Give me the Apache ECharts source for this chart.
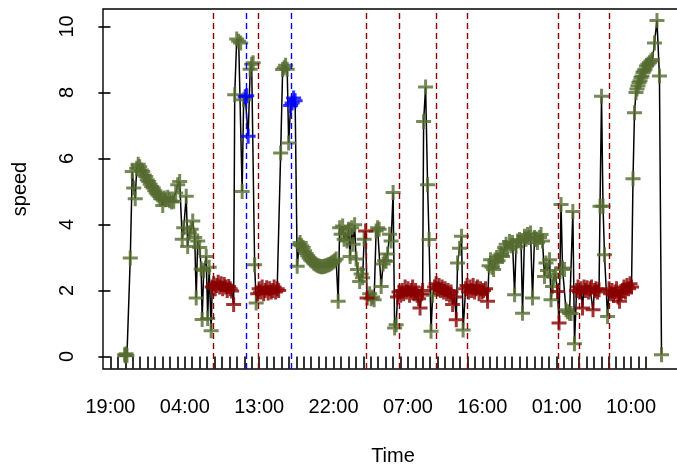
<!DOCTYPE html>
<html><head><meta charset="utf-8">
<script src="https://cdn.jsdelivr.net/npm/echarts@6/dist/echarts.min.js"></script>
<style>html,body{margin:0;padding:0;background:#fff}#c{width:677px;height:464px}</style>
</head><body><div id="c"></div>
<script>
// hours elapsed since 19:00 on day 1
const timeH = [
 1.72,1.80,1.90,2.00,2.40,2.64,2.82,3.00,3.18,3.36,3.54,3.73,3.91,4.09,4.27,4.45,4.63,4.81,5.00,5.18,5.36,5.54,5.72,5.90,6.08,6.33,6.51,6.69,6.93,7.17,7.42,7.66,7.90,8.14,8.38,8.69,8.87,9.17,9.35,9.53,9.77,9.96,10.20,10.38,10.56,10.80,10.98,11.10,11.29,11.59,11.77,11.95,12.19,
 12.31,12.50,12.68,12.86,13.04,13.22,13.40,13.58,13.77,13.95,14.13,14.31,14.49,14.67,14.91,
 15.04,15.28,15.52,15.76,15.94,16.12,
 16.31,16.49,16.67,
 16.91,17.09,17.27,17.45,17.64,
 17.82,18.00,18.18,18.36,18.54,18.72,18.91,19.09,19.27,19.45,19.63,19.81,19.99,20.18,20.36,
 20.60,20.84,21.02,21.20,21.39,21.57,
 21.81,21.99,22.17,22.35,
 22.60,22.84,22.96,23.14,23.32,23.50,23.68,23.87,24.05,24.23,24.41,24.59,24.77,24.95,25.14,25.32,25.50,25.68,25.86,26.04,26.22,26.41,26.59,26.77,26.95,27.13,27.31,27.56,27.74,27.92,28.10,28.28,28.46,28.64,28.82,29.01,29.19,29.37,29.55,29.73,29.91,30.16,30.34,30.52,30.70,
 30.88,31.06,
 31.37,31.55,31.73,31.91,32.15,32.33,32.52,32.76,33.00,33.18,33.36,33.54,33.78,33.97,34.21,34.39,34.57,
 34.75,34.93,35.12,35.30,35.48,35.66,35.84,36.02,36.20,36.39,36.57,36.75,36.93,37.11,37.29,37.47,37.66,37.78,
 37.90,38.14,38.38,38.56,38.80,38.99,
 39.23,39.41,39.59,39.77,39.95,40.14,40.32,40.50,40.68,40.86,41.04,41.22,41.41,41.65,41.85,
 42.01,42.25,42.49,42.68,
 42.98,43.16,43.34,43.52,43.70,43.89,44.07,44.25,44.43,44.61,44.79,44.97,45.15,45.40,45.64,
 45.82,46.00,46.18,46.37,46.55,46.73,46.91,47.09,47.27,47.45,47.70,47.88,48.06,48.30,48.48,48.66,48.91,49.09,49.27,49.51,49.69,49.87,50.11,50.30,50.48,50.66,50.84,51.08,51.32,51.50,51.68,51.93,52.11,52.29,52.53,52.71,52.89,53.14,53.32,53.50,53.68,53.86,
 54.10,54.29,
 54.53,54.71,54.95,55.13,55.32,55.56,55.74,55.96,56.16,
 56.41,56.59,56.77,56.95,57.13,57.31,57.49,57.67,57.86,58.04,58.22,58.40,58.58,58.76,58.94,59.13,
 59.25,59.43,59.61,59.79,60.16,
 60.34,60.52,60.70,60.88,61.06,61.25,61.43,61.61,61.79,61.97,62.15,62.33,62.51,62.70,62.88,63.06,
 63.24,63.42,63.60,63.72,63.84,63.96,64.09,64.21,64.33,64.45,64.57,64.69,64.87,65.05,65.23,65.41,65.60,65.84,66.14,66.44,66.69
];
const speed = [
 0.05,0.02,0.08,0.03,2.98,5.6,5.1,4.78,5.7,5.82,5.75,5.65,5.6,5.5,5.45,5.35,5.3,5.22,5.15,5.1,5.02,4.95,4.9,4.85,4.78,4.57,4.8,4.75,4.82,4.72,4.68,4.7,4.95,5.2,5.3,3.55,3.9,4.85,3.33,3.75,3.85,4.1,3.6,1.77,3.5,3.3,2.65,1.12,2.6,3.03,1.15,2.7,0.78,
 2.1,2.2,2.05,2.15,2.25,2.1,2.2,2.05,2.18,2.1,2.0,2.12,2.05,1.98,1.57,
 7.93,9.62,9.55,9.5,5.0,7.78,
 7.87,7.9,6.67,
 8.7,8.85,8.9,2.78,1.62,
 1.9,2.05,1.95,2.1,1.9,2.0,2.08,1.92,2.05,1.95,2.0,2.1,1.95,2.05,2.0,
 6.16,8.69,8.75,8.82,8.7,6.47,
 7.6,7.68,7.83,7.75,
 2.73,3.38,3.45,3.35,3.3,3.2,3.12,3.05,2.98,2.92,2.88,2.83,2.8,2.77,2.75,2.73,2.72,2.72,2.73,2.74,2.76,2.78,2.8,2.83,2.86,2.9,2.95,1.67,3.9,3.7,3.95,3.55,3.75,3.5,3.85,3.03,3.9,3.4,3.99,2.95,2.63,2.27,2.5,2.38,3.55,
 3.8,1.77,
 1.9,1.75,1.8,1.72,3.8,3.9,3.85,2.12,2.8,2.9,2.88,3.1,3.7,3.5,4.97,0.86,0.96,
 1.8,1.95,1.85,2.0,1.9,2.1,1.95,2.05,1.85,2.0,2.1,1.9,2.0,1.85,1.75,1.47,1.9,2.0,
 7.12,8.16,5.2,3.54,0.76,1.85,
 2.1,2.2,2.05,2.15,2.0,2.1,1.95,2.05,1.9,2.0,1.85,1.95,1.57,1.8,1.11,
 2.83,3.28,3.64,0.8,
 2.05,2.15,1.95,2.1,2.0,2.15,1.95,2.05,2.1,1.9,2.05,1.95,2.0,2.05,1.67,
 2.75,2.93,2.7,2.63,2.85,3.0,2.9,3.05,3.1,3.03,3.3,3.4,3.25,3.48,3.35,3.45,1.87,3.33,3.5,3.54,3.45,1.31,3.64,3.55,3.69,3.6,3.74,1.77,3.6,3.54,3.45,3.6,3.69,3.5,2.42,2.83,2.6,2.93,1.72,2.12,2.4,2.5,
 1.97,1.01,
 4.6,2.68,2.63,1.41,1.35,1.31,1.3,4.39,0.38,
 2.0,2.1,1.95,2.05,1.47,2.1,2.0,2.08,1.95,2.05,2.1,1.41,2.0,2.05,1.95,2.02,
 4.55,7.88,4.55,3.08,1.21,
 2.05,1.9,2.0,1.85,1.95,2.05,1.8,1.67,1.9,2.0,2.1,1.95,2.15,2.05,2.2,2.1,
 5.38,7.38,8.0,8.1,8.2,8.3,8.35,8.45,8.5,8.6,8.65,8.7,8.8,8.85,8.9,8.95,9.0,9.5,10.18,8.5,0.05
];
// consecutive runs of point classes (G = normal, R = stop, B = flagged)
const runClass  = ['G','R','G','B','G','R','G','B','G','R','G','R','G','R','G','R','G','R','G','R','G','R','G'];
const runLength = [ 53, 15,  6,  3,  5, 15,  6,  4, 45,  2, 17, 18,  6, 15,  4, 15, 42,  2,  9, 16,  5, 16, 21];
// dashed reference lines (hours since start)
const redLines  = [12.50, 17.94, 30.97, 34.91, 39.43, 43.18, 54.19, 56.69, 60.40];
const blueLines = [16.49, 21.89];
// axis labels
const labelHours = [0, 9, 18, 27, 36, 45, 54, 63];
const labelText  = ['19:00','04:00','13:00','22:00','07:00','16:00','01:00','10:00'];
const yTicks = [0, 2, 4, 6, 8, 10];

const classColor = {G:'#556B2F', R:'#8B0000', B:'#0000FF'};
const cls = [];
runClass.forEach((c, i) => { for (let k = 0; k < runLength[i]; k++) cls.push(c); });

const lineData = timeH.map((t, i) => [t, speed[i]]);
const groupData = {G:[], R:[], B:[]};
timeH.forEach((t, i) => groupData[cls[i] || 'G'].push([t, speed[i]]));

const xTicks = [];
for (let k = 0; k <= 72; k++) xTicks.push(+(k * 0.9).toFixed(2));

const plus = 'path://M0,4H10V6H0Z M4,0H6V10H4Z';
const FONT = "'Liberation Sans', Arial, sans-serif";

const chart = echarts.init(document.getElementById('c'), null, {renderer:'canvas'});
chart.setOption({
  animation: false,
  backgroundColor: '#fff',
  grid: {left: 103, top: 9, width: 580, height: 360, outerBoundsMode: 'none', containLabel: false,
         show: true, borderColor: '#000', borderWidth: 1.4, backgroundColor: 'transparent'},
  xAxis: {
    type: 'value', min: -0.9, max: 69.29,
    name: 'Time', nameLocation: 'middle', nameGap: 77,
    nameTextStyle: {fontFamily: FONT, fontSize: 20, color: '#000'},
    axisLine: {show: false},
    splitLine: {show: false},
    axisTick: {show: true, inside: false, length: 12, customValues: xTicks, lineStyle: {color: '#000', width: 1.6}},
    axisLabel: {show: true, margin: 28, customValues: labelHours, fontFamily: FONT, fontSize: 20, color: '#000',
      formatter: v => { const i = labelHours.findIndex(h => Math.abs(h - v) < 1e-6); return i >= 0 ? labelText[i] : ''; }}
  },
  yAxis: {
    type: 'value', min: -0.382, max: 10.527,
    name: 'speed', nameLocation: 'middle', nameGap: 73, nameRotate: 90,
    nameTextStyle: {fontFamily: FONT, fontSize: 20, color: '#000'},
    axisLine: {show: false},
    splitLine: {show: false},
    axisTick: {show: true, inside: false, length: 12, customValues: yTicks, lineStyle: {color: '#000', width: 1.6}},
    axisLabel: {show: true, rotate: 90, margin: 26, customValues: yTicks, fontFamily: FONT, fontSize: 20, color: '#000'}
  },
  series: [
    {type: 'line', data: lineData, showSymbol: false, symbol: 'none', z: 2,
     lineStyle: {color: '#000', width: 1.5}, silent: true},
    {type: 'scatter', data: groupData.G, symbol: plus, symbolSize: 15, z: 3, itemStyle: {color: classColor.G}, silent: true},
    {type: 'scatter', data: groupData.R, symbol: plus, symbolSize: 15, z: 3, itemStyle: {color: classColor.R}, silent: true},
    {type: 'scatter', data: groupData.B, symbol: plus, symbolSize: 15, z: 3, itemStyle: {color: classColor.B}, silent: true},
    {type: 'line', data: [[timeH[0], speed[0]]], showSymbol: false, symbol: 'none', z: 5,
     lineStyle: {width: 0, opacity: 0}, silent: true,
     markLine: {silent: true, symbol: ['none','none'], label: {show: false}, animation: false,
       data: redLines.map(x => ({xAxis: x, lineStyle: {color: '#8B0000', type: [6,4], width: 1.4}}))
         .concat(blueLines.map(x => ({xAxis: x, lineStyle: {color: '#0000FF', type: [6,4], width: 1.4}})))}}
  ]
});
</script></body></html>
